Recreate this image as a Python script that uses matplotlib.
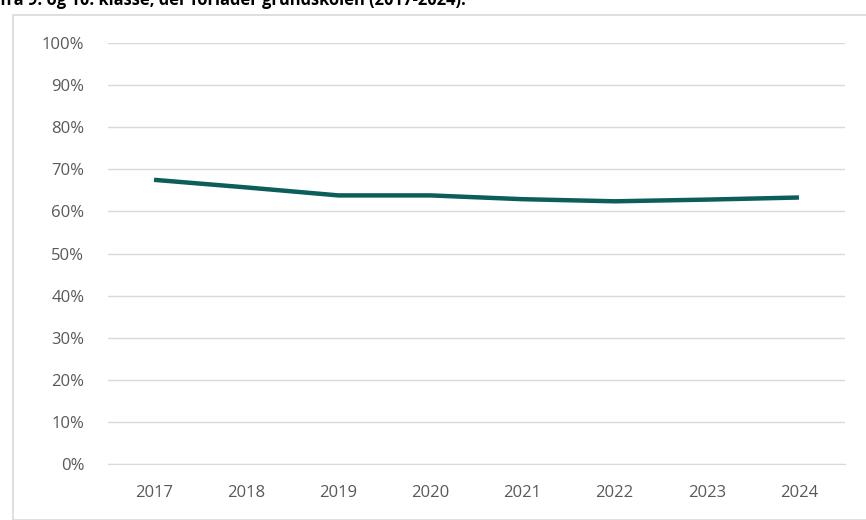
import matplotlib.pyplot as plt
from matplotlib.patches import Rectangle
from matplotlib.ticker import FuncFormatter

years = ["2017", "2018", "2019", "2020", "2021", "2022", "2023", "2024"]
share = [67.5, 65.7, 63.8, 63.8, 62.9, 62.4, 62.8, 63.3]
yticks = [0, 10, 20, 30, 40, 50, 60, 70, 80, 90, 100]

plt.rcParams["font.family"] = ["Open Sans", "DejaVu Sans"]

fig = plt.figure(figsize=(8.66, 5.2), dpi=100)

# light frame around the chart, cut at right/bottom edge
fig.patches.append(Rectangle((13 / 866, 0), 1.0, 1 - 15 / 520,
                             transform=fig.transFigure, fill=False,
                             edgecolor="#d9d9d9", linewidth=1.2))

# title, clipped at top of the image (as in the source)
fig.text(0.0, 1 - 5 / 520, "fra 9. og 10. klasse, der forlader grundskolen (2017-2024).",
         fontsize=11.9, fontweight="bold", color="#000000", va="baseline", ha="left")

ax = fig.add_axes([108 / 866, 1 - 464 / 520, (845 - 108) / 866, (464 - 43) / 520])
x = range(len(years))
ax.plot(x, share, color="#0b5e5a", linewidth=3.2, solid_capstyle="butt")

ax.set_xlim(-0.5, len(years) - 0.5)
ax.set_ylim(0, 100)
ax.set_yticks(yticks)
ax.yaxis.set_major_formatter(FuncFormatter(lambda v, p: f"{int(v)}%"))
ax.set_xticks(list(x))
ax.set_xticklabels(years)

ax.grid(axis="y", color="#d9d9d9", linewidth=1)
ax.set_axisbelow(True)
for s in ["top", "right", "left"]:
    ax.spines[s].set_visible(False)
ax.spines["bottom"].set_color("#d9d9d9")
ax.tick_params(axis="both", length=0, labelsize=12, colors="#595959")
ax.tick_params(axis="y", pad=17)
ax.tick_params(axis="x", pad=15)

fig.savefig("out.png", dpi=100)
